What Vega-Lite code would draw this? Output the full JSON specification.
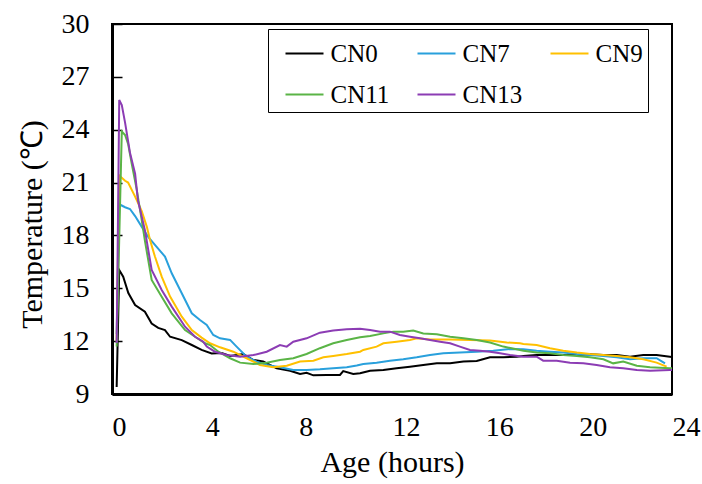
{
  "$schema": "https://vega.github.io/schema/vega-lite/v6.json",
  "width": 560,
  "height": 370,
  "autosize": {"type": "none"},
  "padding": {"left": 112, "top": 24, "right": 30, "bottom": 90},
  "background": "white",
  "config": {
    "font": "Liberation Serif",
    "view": {"stroke": "#000000", "strokeWidth": 2},
    "axis": {"grid": false, "domainColor": "#000000", "domainWidth": 3, "labelColor": "#000000", "titleColor": "#000000", "labelFont": "Liberation Serif", "titleFont": "Liberation Serif", "titleFontWeight": "normal"}
  },
  "data": {"values": [
    {"s":"CN0","h":0.20,"T":9.4},{"s":"CN0","h":0.31,"T":16.04},{"s":"CN0","h":0.48,"T":15.66},{"s":"CN0","h":0.70,"T":14.73},{"s":"CN0","h":0.99,"T":14.05},{"s":"CN0","h":1.41,"T":13.67},{"s":"CN0","h":1.70,"T":13.0},{"s":"CN0","h":1.98,"T":12.75},{"s":"CN0","h":2.27,"T":12.63},{"s":"CN0","h":2.49,"T":12.25},{"s":"CN0","h":2.99,"T":12.06},{"s":"CN0","h":3.42,"T":11.78},{"s":"CN0","h":3.84,"T":11.5},{"s":"CN0","h":4.27,"T":11.3},{"s":"CN0","h":4.70,"T":11.33},{"s":"CN0","h":5.06,"T":11.16},{"s":"CN0","h":5.63,"T":11.27},{"s":"CN0","h":6.06,"T":10.93},{"s":"CN0","h":6.48,"T":10.84},{"s":"CN0","h":7.06,"T":10.46},{"s":"CN0","h":7.63,"T":10.32},{"s":"CN0","h":8.06,"T":10.14},{"s":"CN0","h":8.34,"T":10.2},{"s":"CN0","h":8.63,"T":10.06},{"s":"CN0","h":9.20,"T":10.08},{"s":"CN0","h":9.77,"T":10.08},{"s":"CN0","h":9.91,"T":10.3},{"s":"CN0","h":10.34,"T":10.14},{"s":"CN0","h":10.63,"T":10.18},{"s":"CN0","h":11.06,"T":10.32},{"s":"CN0","h":11.63,"T":10.36},{"s":"CN0","h":12.20,"T":10.46},{"s":"CN0","h":12.77,"T":10.55},{"s":"CN0","h":13.34,"T":10.65},{"s":"CN0","h":13.92,"T":10.74},{"s":"CN0","h":14.49,"T":10.74},{"s":"CN0","h":15.06,"T":10.84},{"s":"CN0","h":15.63,"T":10.87},{"s":"CN0","h":16.20,"T":11.08},{"s":"CN0","h":16.77,"T":11.08},{"s":"CN0","h":17.34,"T":11.12},{"s":"CN0","h":17.63,"T":11.16},{"s":"CN0","h":18.20,"T":11.21},{"s":"CN0","h":18.77,"T":11.21},{"s":"CN0","h":19.34,"T":11.21},{"s":"CN0","h":19.92,"T":11.21},{"s":"CN0","h":20.49,"T":11.25},{"s":"CN0","h":21.06,"T":11.21},{"s":"CN0","h":21.63,"T":11.21},{"s":"CN0","h":22.20,"T":11.12},{"s":"CN0","h":22.77,"T":11.21},{"s":"CN0","h":23.34,"T":11.21},{"s":"CN0","h":23.91,"T":11.12},{"s":"CN0","h":24.0,"T":11.1},
    {"s":"CN7","h":0.20,"T":12.4},{"s":"CN7","h":0.31,"T":19.77},{"s":"CN7","h":0.56,"T":19.6},{"s":"CN7","h":0.77,"T":19.5},{"s":"CN7","h":0.99,"T":19.1},{"s":"CN7","h":1.27,"T":18.5},{"s":"CN7","h":1.56,"T":17.9},{"s":"CN7","h":1.84,"T":17.46},{"s":"CN7","h":2.27,"T":16.8},{"s":"CN7","h":2.56,"T":15.85},{"s":"CN7","h":2.99,"T":14.72},{"s":"CN7","h":3.42,"T":13.58},{"s":"CN7","h":3.77,"T":13.2},{"s":"CN7","h":4.06,"T":12.92},{"s":"CN7","h":4.34,"T":12.35},{"s":"CN7","h":4.63,"T":12.16},{"s":"CN7","h":5.06,"T":12.07},{"s":"CN7","h":5.34,"T":11.69},{"s":"CN7","h":5.77,"T":11.12},{"s":"CN7","h":6.20,"T":10.84},{"s":"CN7","h":6.63,"T":10.65},{"s":"CN7","h":7.20,"T":10.52},{"s":"CN7","h":7.77,"T":10.36},{"s":"CN7","h":8.34,"T":10.36},{"s":"CN7","h":8.91,"T":10.4},{"s":"CN7","h":9.48,"T":10.46},{"s":"CN7","h":10.06,"T":10.52},{"s":"CN7","h":10.49,"T":10.62},{"s":"CN7","h":10.77,"T":10.7},{"s":"CN7","h":11.34,"T":10.78},{"s":"CN7","h":11.91,"T":10.89},{"s":"CN7","h":12.48,"T":10.97},{"s":"CN7","h":13.06,"T":11.08},{"s":"CN7","h":13.63,"T":11.21},{"s":"CN7","h":14.20,"T":11.31},{"s":"CN7","h":14.91,"T":11.36},{"s":"CN7","h":15.63,"T":11.4},{"s":"CN7","h":16.34,"T":11.46},{"s":"CN7","h":17.06,"T":11.55},{"s":"CN7","h":17.63,"T":11.54},{"s":"CN7","h":18.20,"T":11.46},{"s":"CN7","h":18.77,"T":11.4},{"s":"CN7","h":19.34,"T":11.35},{"s":"CN7","h":19.92,"T":11.27},{"s":"CN7","h":20.49,"T":11.21},{"s":"CN7","h":21.06,"T":11.16},{"s":"CN7","h":21.63,"T":11.08},{"s":"CN7","h":22.20,"T":10.97},{"s":"CN7","h":22.77,"T":11.03},{"s":"CN7","h":23.34,"T":11.03},{"s":"CN7","h":23.70,"T":10.74},
    {"s":"CN9","h":0.20,"T":12.0},{"s":"CN9","h":0.31,"T":21.4},{"s":"CN9","h":0.56,"T":21.1},{"s":"CN9","h":0.69,"T":21.0},{"s":"CN9","h":0.99,"T":20.2},{"s":"CN9","h":1.27,"T":19.4},{"s":"CN9","h":1.49,"T":18.5},{"s":"CN9","h":1.63,"T":17.74},{"s":"CN9","h":1.84,"T":16.8},{"s":"CN9","h":2.13,"T":15.66},{"s":"CN9","h":2.49,"T":14.53},{"s":"CN9","h":2.99,"T":13.39},{"s":"CN9","h":3.42,"T":12.63},{"s":"CN9","h":3.84,"T":12.2},{"s":"CN9","h":4.20,"T":11.88},{"s":"CN9","h":4.63,"T":11.65},{"s":"CN9","h":5.20,"T":11.4},{"s":"CN9","h":5.77,"T":11.03},{"s":"CN9","h":6.34,"T":10.65},{"s":"CN9","h":6.91,"T":10.52},{"s":"CN9","h":7.49,"T":10.6},{"s":"CN9","h":8.06,"T":10.84},{"s":"CN9","h":8.63,"T":10.89},{"s":"CN9","h":9.06,"T":11.08},{"s":"CN9","h":9.48,"T":11.16},{"s":"CN9","h":10.06,"T":11.27},{"s":"CN9","h":10.63,"T":11.4},{"s":"CN9","h":10.77,"T":11.5},{"s":"CN9","h":11.34,"T":11.69},{"s":"CN9","h":11.63,"T":11.88},{"s":"CN9","h":12.20,"T":11.97},{"s":"CN9","h":12.77,"T":12.07},{"s":"CN9","h":13.06,"T":12.16},{"s":"CN9","h":13.63,"T":12.1},{"s":"CN9","h":14.49,"T":12.1},{"s":"CN9","h":15.34,"T":12.07},{"s":"CN9","h":16.20,"T":12.03},{"s":"CN9","h":16.92,"T":11.92},{"s":"CN9","h":17.49,"T":11.88},{"s":"CN9","h":17.63,"T":11.84},{"s":"CN9","h":18.20,"T":11.78},{"s":"CN9","h":18.77,"T":11.6},{"s":"CN9","h":19.34,"T":11.46},{"s":"CN9","h":19.92,"T":11.35},{"s":"CN9","h":20.49,"T":11.27},{"s":"CN9","h":21.06,"T":11.21},{"s":"CN9","h":21.63,"T":11.16},{"s":"CN9","h":22.20,"T":11.08},{"s":"CN9","h":22.77,"T":10.97},{"s":"CN9","h":23.34,"T":10.78},{"s":"CN9","h":23.77,"T":10.55},
    {"s":"CN11","h":0.20,"T":11.7},{"s":"CN11","h":0.42,"T":23.9},{"s":"CN11","h":0.56,"T":23.7},{"s":"CN11","h":0.69,"T":23.2},{"s":"CN11","h":0.84,"T":22.1},{"s":"CN11","h":1.06,"T":20.6},{"s":"CN11","h":1.27,"T":18.9},{"s":"CN11","h":1.41,"T":17.7},{"s":"CN11","h":1.70,"T":15.47},{"s":"CN11","h":2.13,"T":14.52},{"s":"CN11","h":2.56,"T":13.58},{"s":"CN11","h":3.13,"T":12.63},{"s":"CN11","h":3.56,"T":12.25},{"s":"CN11","h":3.99,"T":11.88},{"s":"CN11","h":4.20,"T":11.78},{"s":"CN11","h":4.56,"T":11.4},{"s":"CN11","h":5.06,"T":11.03},{"s":"CN11","h":5.49,"T":10.78},{"s":"CN11","h":6.06,"T":10.7},{"s":"CN11","h":6.63,"T":10.78},{"s":"CN11","h":7.20,"T":10.93},{"s":"CN11","h":7.77,"T":11.03},{"s":"CN11","h":8.34,"T":11.27},{"s":"CN11","h":8.91,"T":11.6},{"s":"CN11","h":9.48,"T":11.88},{"s":"CN11","h":10.06,"T":12.07},{"s":"CN11","h":10.63,"T":12.22},{"s":"CN11","h":11.06,"T":12.29},{"s":"CN11","h":11.63,"T":12.44},{"s":"CN11","h":12.06,"T":12.54},{"s":"CN11","h":12.48,"T":12.54},{"s":"CN11","h":12.91,"T":12.6},{"s":"CN11","h":13.34,"T":12.44},{"s":"CN11","h":13.92,"T":12.39},{"s":"CN11","h":14.49,"T":12.25},{"s":"CN11","h":15.06,"T":12.16},{"s":"CN11","h":15.63,"T":12.07},{"s":"CN11","h":16.20,"T":11.92},{"s":"CN11","h":16.77,"T":11.69},{"s":"CN11","h":17.34,"T":11.54},{"s":"CN11","h":17.63,"T":11.46},{"s":"CN11","h":18.20,"T":11.35},{"s":"CN11","h":18.77,"T":11.31},{"s":"CN11","h":19.34,"T":11.21},{"s":"CN11","h":19.92,"T":11.16},{"s":"CN11","h":20.49,"T":11.08},{"s":"CN11","h":21.06,"T":10.97},{"s":"CN11","h":21.48,"T":10.74},{"s":"CN11","h":21.91,"T":10.84},{"s":"CN11","h":22.49,"T":10.6},{"s":"CN11","h":23.06,"T":10.52},{"s":"CN11","h":23.91,"T":10.46},{"s":"CN11","h":24.0,"T":10.46},
    {"s":"CN13","h":0.20,"T":11.9},{"s":"CN13","h":0.31,"T":25.69},{"s":"CN13","h":0.42,"T":25.4},{"s":"CN13","h":0.56,"T":24.4},{"s":"CN13","h":0.77,"T":22.7},{"s":"CN13","h":0.99,"T":21.5},{"s":"CN13","h":1.11,"T":20.0},{"s":"CN13","h":1.41,"T":18.3},{"s":"CN13","h":1.70,"T":16.04},{"s":"CN13","h":2.13,"T":14.9},{"s":"CN13","h":2.56,"T":13.96},{"s":"CN13","h":3.13,"T":12.82},{"s":"CN13","h":3.56,"T":12.25},{"s":"CN13","h":3.91,"T":11.97},{"s":"CN13","h":4.06,"T":11.69},{"s":"CN13","h":4.41,"T":11.4},{"s":"CN13","h":4.92,"T":11.21},{"s":"CN13","h":5.49,"T":11.12},{"s":"CN13","h":6.06,"T":11.21},{"s":"CN13","h":6.63,"T":11.4},{"s":"CN13","h":7.20,"T":11.78},{"s":"CN13","h":7.49,"T":11.69},{"s":"CN13","h":7.77,"T":11.97},{"s":"CN13","h":8.34,"T":12.16},{"s":"CN13","h":8.91,"T":12.48},{"s":"CN13","h":9.48,"T":12.6},{"s":"CN13","h":10.06,"T":12.67},{"s":"CN13","h":10.63,"T":12.7},{"s":"CN13","h":11.06,"T":12.63},{"s":"CN13","h":11.49,"T":12.54},{"s":"CN13","h":11.91,"T":12.54},{"s":"CN13","h":12.34,"T":12.35},{"s":"CN13","h":12.77,"T":12.25},{"s":"CN13","h":13.20,"T":12.16},{"s":"CN13","h":13.63,"T":12.07},{"s":"CN13","h":14.06,"T":11.97},{"s":"CN13","h":14.49,"T":11.88},{"s":"CN13","h":14.91,"T":11.69},{"s":"CN13","h":15.34,"T":11.5},{"s":"CN13","h":15.77,"T":11.46},{"s":"CN13","h":16.20,"T":11.4},{"s":"CN13","h":16.63,"T":11.31},{"s":"CN13","h":17.06,"T":11.21},{"s":"CN13","h":17.63,"T":11.12},{"s":"CN13","h":18.20,"T":11.12},{"s":"CN13","h":18.48,"T":10.89},{"s":"CN13","h":19.06,"T":10.89},{"s":"CN13","h":19.63,"T":10.78},{"s":"CN13","h":20.20,"T":10.74},{"s":"CN13","h":20.77,"T":10.65},{"s":"CN13","h":21.34,"T":10.52},{"s":"CN13","h":21.91,"T":10.46},{"s":"CN13","h":22.49,"T":10.36},{"s":"CN13","h":23.06,"T":10.32},{"s":"CN13","h":23.91,"T":10.36},{"s":"CN13","h":24.0,"T":10.36}
  ]},
  "mark": {"type": "line", "strokeWidth": 2, "clip": true},
  "encoding": {
    "x": {
      "field": "h", "type": "quantitative",
      "scale": {"domain": [0, 24], "nice": false, "zero": false},
      "axis": {"title": "Age (hours)", "values": [0, 4, 8, 12, 16, 20, 24], "ticks": false, "labelAlign": "left", "labelFlush": false, "labelOverlap": false, "labelBound": false, "labelFontSize": 28, "labelPadding": 19, "titleFontSize": 30, "titleFont": "Liberation Serif", "titlePadding": 6}
    },
    "y": {
      "field": "T", "type": "quantitative",
      "scale": {"domain": [9, 30], "nice": false, "zero": false},
      "axis": {"title": "Temperature (℃)", "values": [9, 12, 15, 18, 21, 24, 27, 30], "tickSize": -10, "tickWidth": 1.5, "tickColor": "#000000", "labelFontSize": 28, "labelPadding": 33, "labelFlush": false, "labelOverlap": false, "titleFontSize": 30, "titleFont": "Liberation Serif", "titlePadding": 14, "titleY": 200}
    },
    "color": {
      "field": "s", "type": "nominal",
      "scale": {"domain": ["CN0", "CN7", "CN9", "CN11", "CN13"], "range": ["#000000", "#29A0DC", "#FFC000", "#5AB446", "#8C3CB4"]},
      "legend": {"title": null, "orient": "none", "legendX": 156, "legendY": 5, "direction": "horizontal", "columns": 3, "symbolType": "stroke", "symbolSize": 1444, "symbolStrokeWidth": 2, "symbolOffset": 12, "labelFontSize": 25, "labelFont": "Liberation Serif", "labelColor": "#000000", "labelOffset": 6, "columnPadding": 15, "rowPadding": 8, "padding": 4.5, "strokeColor": "#000000", "fillColor": "white"}
    },
    "order": {"field": "h", "type": "quantitative"}
  }
}
